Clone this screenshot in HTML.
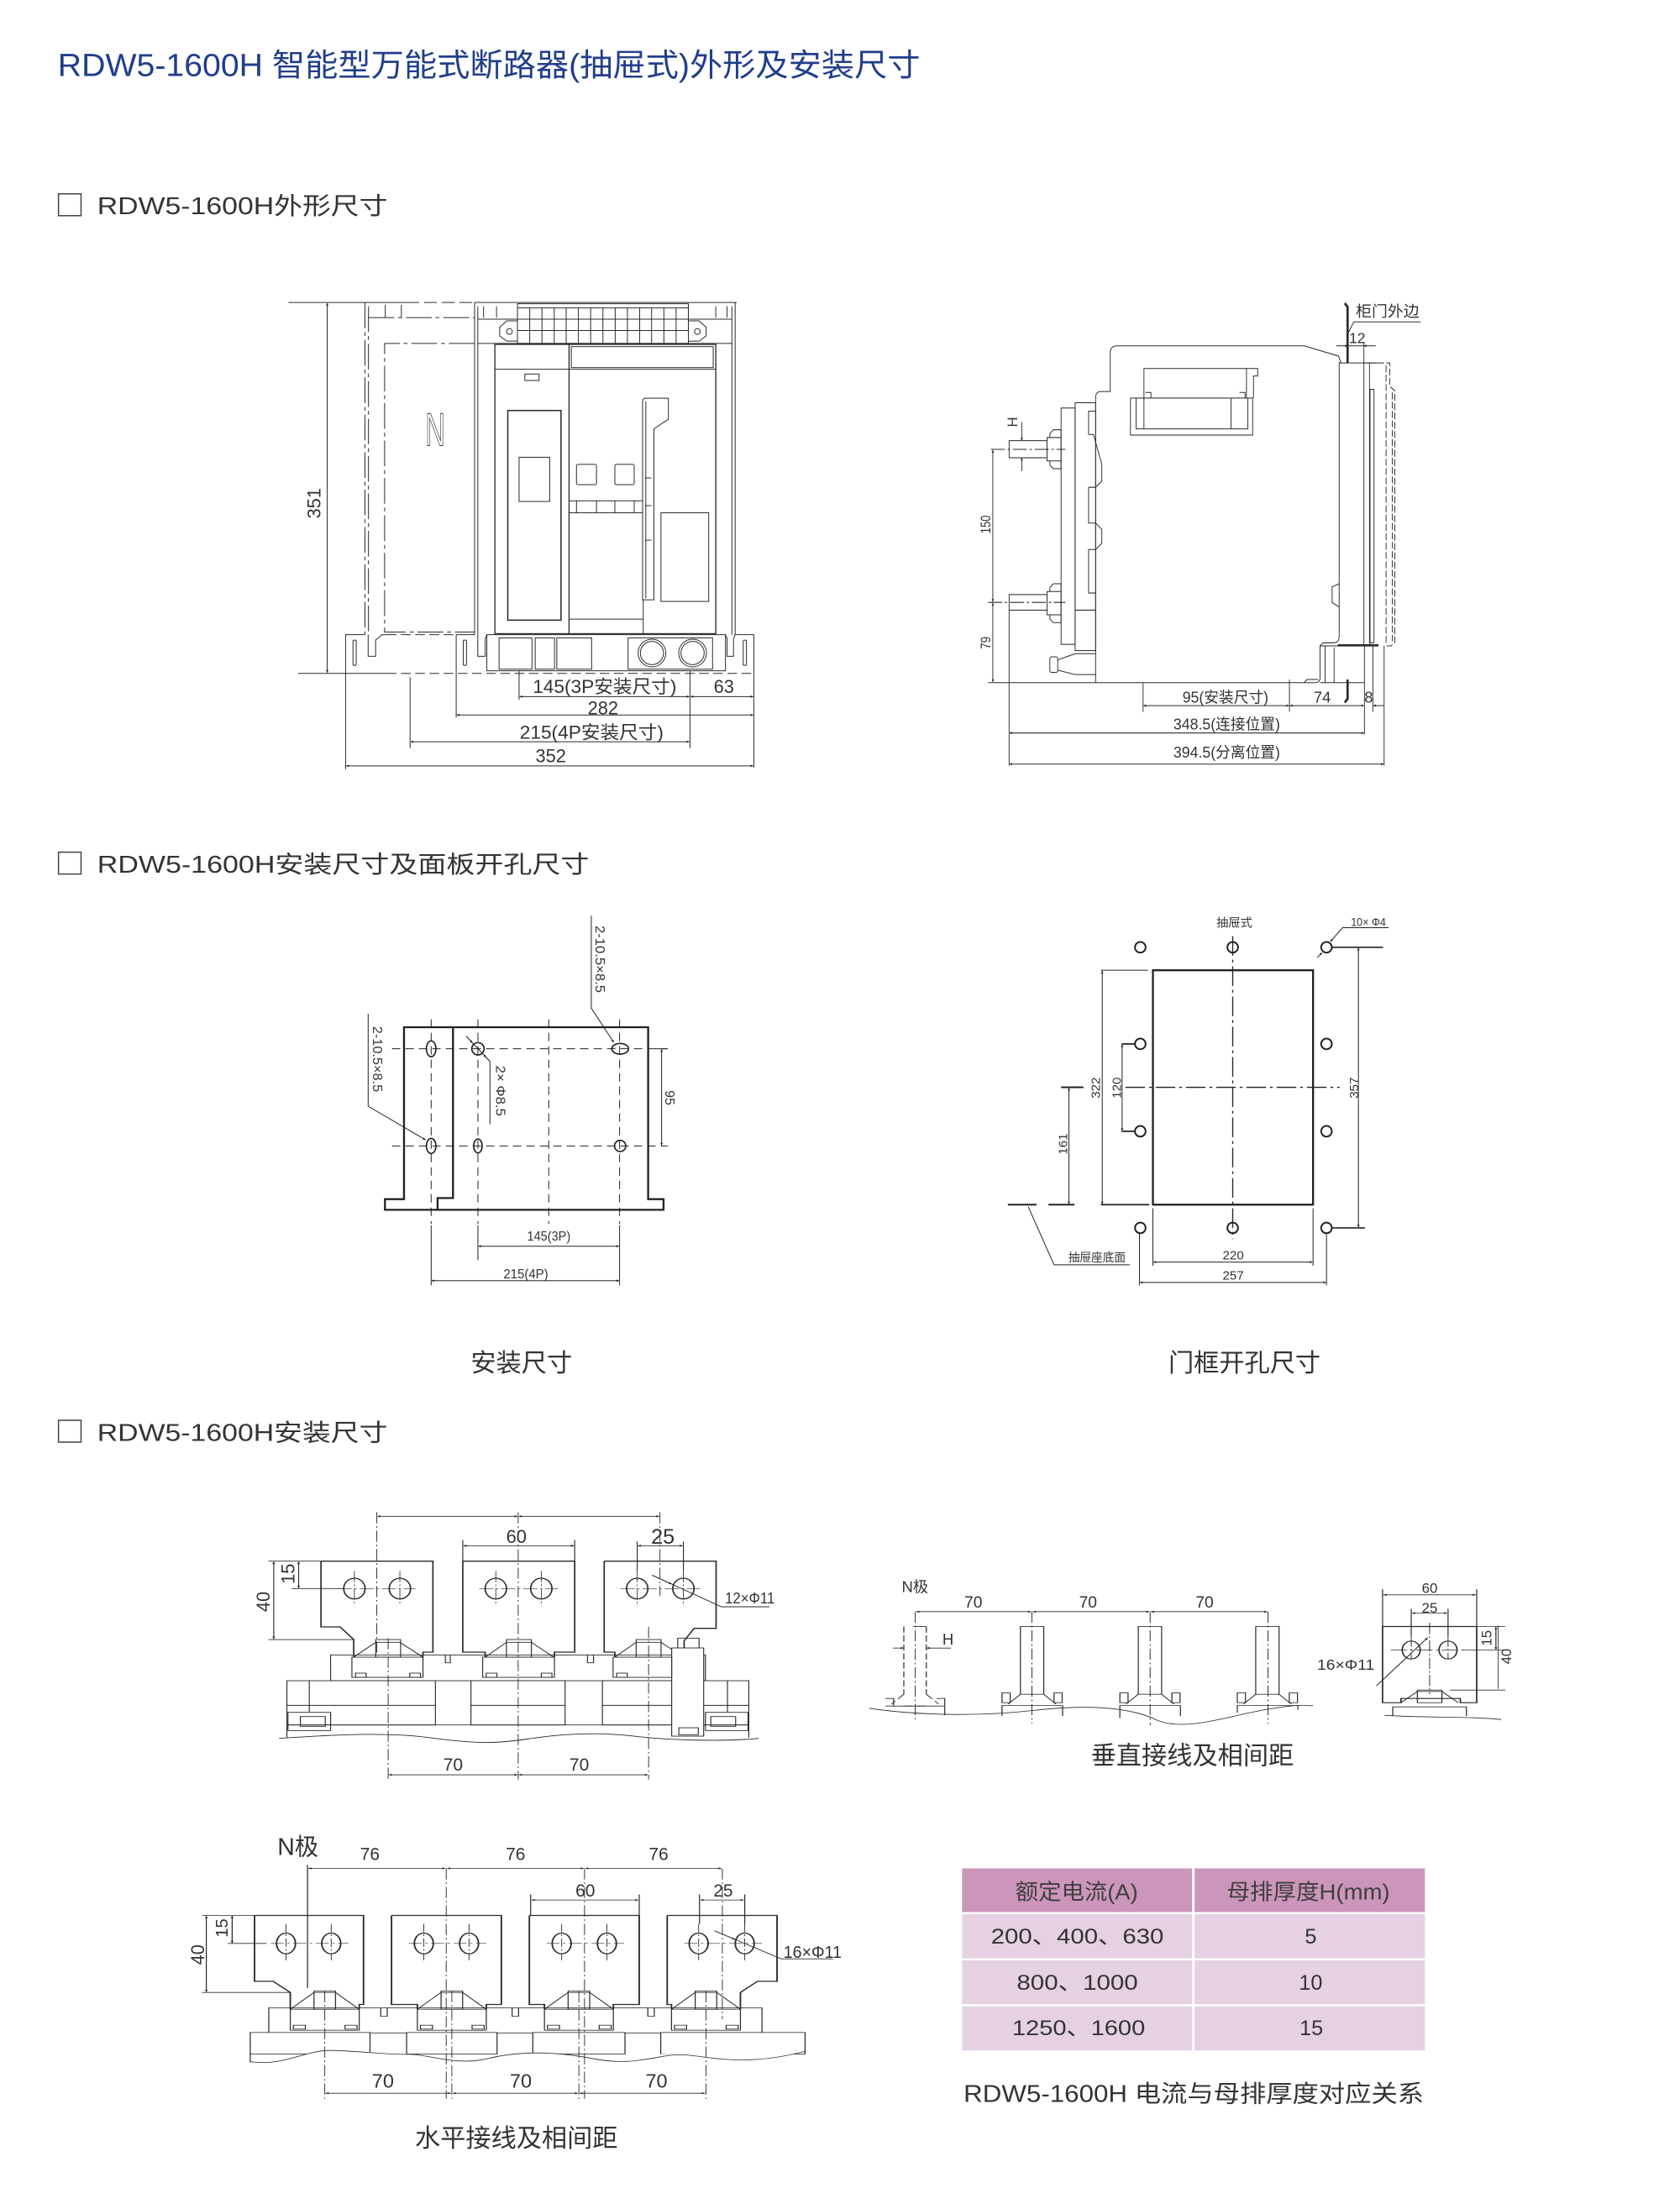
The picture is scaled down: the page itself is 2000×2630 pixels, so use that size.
<!DOCTYPE html>
<html><head><meta charset="utf-8">
<style>
html,body{margin:0;padding:0;background:#fff;}
svg{display:block;}
text{font-family:"Liberation Sans","Noto Sans CJK SC",sans-serif;fill:#333;stroke:none;}
</style></head><body>
<svg width="2000" height="2630" viewBox="0 0 1192 1567" preserveAspectRatio="none" xmlns="http://www.w3.org/2000/svg">
<defs>
<marker id="ar" viewBox="0 0 10 10" refX="10" refY="5" markerWidth="8" markerHeight="3" orient="auto-start-reverse"><path d="M0,0L10,5L0,10z" fill="#222" stroke="none"/></marker>
</defs>
<rect width="1192" height="1567" fill="#fff"/>

<!-- Title -->
<text x="41" y="54" font-size="22.5" fill="#213e8c" style="fill:#213e8c" textLength="612" lengthAdjust="spacingAndGlyphs">RDW5-1600H 智能型万能式断路器(抽屉式)外形及安装尺寸</text>

<!-- Subtitles -->
<rect x="41.5" y="137.5" width="16" height="15.5" fill="none" stroke="#444" stroke-width="0.9"/>
<text x="69" y="152" font-size="17" textLength="206" lengthAdjust="spacingAndGlyphs">RDW5-1600H外形尺寸</text>
<rect x="41.5" y="604.5" width="16" height="15.5" fill="none" stroke="#444" stroke-width="0.9"/>
<text x="69" y="619" font-size="17" textLength="349" lengthAdjust="spacingAndGlyphs">RDW5-1600H安装尺寸及面板开孔尺寸</text>
<rect x="41.5" y="1007.5" width="16" height="15.5" fill="none" stroke="#444" stroke-width="0.9"/>
<text x="69" y="1022" font-size="17" textLength="206" lengthAdjust="spacingAndGlyphs">RDW5-1600H安装尺寸</text>

<!-- ============ FIG 1 front view ============ -->
<g transform="translate(196.7,196.7) scale(0.2288)" fill="none" stroke="#2a2a2a" stroke-width="2.6">
<line x1="35" y1="78" x2="272" y2="78"/>
<line x1="155" y1="80" x2="155" y2="1226" marker-start="url(#ar)" marker-end="url(#ar)"/>
<line x1="65" y1="1228" x2="340" y2="1228"/>
<line x1="340" y1="1228" x2="1480" y2="1228" stroke-dasharray="30,14"/>
<line x1="272" y1="78" x2="400" y2="78"/>
<line x1="400" y1="78" x2="612" y2="78" stroke-dasharray="40,15"/>
<line x1="612" y1="78" x2="1425" y2="78"/>
<g stroke-dasharray="80,12,12,12">
<line x1="272" y1="78" x2="272" y2="1108"/>
<line x1="283" y1="90" x2="283" y2="1108"/>
<line x1="283" y1="125" x2="612" y2="125"/>
<path d="M612,205 H333 V1100 H612"/>
</g>
<line x1="335" y1="85" x2="335" y2="125"/>
<line x1="385" y1="85" x2="385" y2="125"/>
<line x1="612" y1="78" x2="612" y2="1110"/>
<line x1="622" y1="90" x2="622" y2="1108"/>
<line x1="1410" y1="90" x2="1410" y2="1108"/>
<line x1="1420" y1="78" x2="1420" y2="1108"/>
<line x1="640" y1="90" x2="640" y2="125"/>
<line x1="680" y1="90" x2="680" y2="125"/>
<line x1="1360" y1="90" x2="1360" y2="125"/>
<line x1="1395" y1="90" x2="1395" y2="125"/>
<line x1="622" y1="130" x2="745" y2="130"/>
<line x1="1275" y1="130" x2="1410" y2="130"/>
<line x1="622" y1="205" x2="1410" y2="205"/>
<rect x="745" y="82" width="530" height="123"/>
<path d="M783,95V205M821,95V205M859,95V205M896,95V205M934,95V205M972,95V205M1010,95V205M1048,95V205M1086,95V205M1124,95V205M1161,95V205M1199,95V205M1237,95V205M745,95H1275M745,130H1275M745,165H1275"/>
<path d="M745,135 H712 L690,155 V182 L712,198 H745"/>
<circle cx="720" cy="168" r="9"/>
<path d="M1275,135 H1308 L1330,155 V182 L1308,198 H1275"/>
<circle cx="1303" cy="168" r="9"/>
<rect x="675" y="208" width="685" height="897" stroke-width="3.5"/>
<line x1="675" y1="285" x2="1360" y2="285"/>
<line x1="905" y1="208" x2="905" y2="1105" stroke-width="3.5"/>
<rect x="912" y="215" width="440" height="65"/>
<rect x="768" y="300" width="44" height="20"/>
<rect x="715" y="413" width="165" height="650" stroke-width="4"/>
<rect x="750" y="558" width="95" height="137"/>
<rect x="928" y="580" width="62" height="63" rx="5"/>
<rect x="1047" y="580" width="60" height="63" rx="5"/>
<path d="M905,693 H1133 M905,730 H1133 M928,693V730 M990,693V730 M1047,693V730 M1107,693V730"/>
<path d="M1133,1000 V385 Q1133,375 1143,375 H1213 V440 L1168,470 V1000 Z"/>
<line x1="1143" y1="385" x2="1143" y2="995"/>
<path d="M1140,622 H1160 M1140,708 H1160 M1140,815 H1160"/>
<path d="M1135,1000 V1105 M905,1060 H1135"/>
<rect x="1190" y="730" width="148" height="275"/>
<rect x="650" y="1108" width="740" height="112"/>
<rect x="688" y="1118" width="102" height="97"/>
<rect x="800" y="1118" width="60" height="97"/>
<rect x="867" y="1118" width="108" height="97"/>
<rect x="1088" y="1118" width="262" height="97"/>
<circle cx="1162" cy="1165" r="43"/><circle cx="1162" cy="1165" r="36"/>
<circle cx="1288" cy="1165" r="43"/><circle cx="1288" cy="1165" r="36"/>
<path d="M212,1228 V1108 H272 M282,1108 V1175 H305 V1125 L325,1108 H340"/>
<line x1="340" y1="1108" x2="555" y2="1108" stroke-dasharray="30,14"/>
<path d="M555,1228 V1108 H612 M622,1108 V1175 H645 V1120 L650,1108"/>
<path d="M1390,1108 L1395,1120 V1175 H1415 V1120 L1420,1108 H1478 V1228"/>
<rect x="235" y="1125" width="10" height="78" rx="3"/>
<rect x="577" y="1125" width="10" height="78" rx="3"/>
<rect x="1445" y="1125" width="10" height="78" rx="3"/>
<line x1="750" y1="1220" x2="750" y2="1310"/>
<line x1="1280" y1="1220" x2="1280" y2="1460"/>
<line x1="1478" y1="1228" x2="1478" y2="1520"/>
<line x1="555" y1="1228" x2="555" y2="1365"/>
<line x1="412" y1="1240" x2="412" y2="1460"/>
<line x1="212" y1="1228" x2="212" y2="1525"/>
<line x1="752" y1="1300" x2="1278" y2="1300" marker-start="url(#ar)" marker-end="url(#ar)"/>
<line x1="1282" y1="1300" x2="1476" y2="1300" marker-start="url(#ar)" marker-end="url(#ar)"/>
<line x1="557" y1="1357" x2="1476" y2="1357" marker-start="url(#ar)" marker-end="url(#ar)"/>
<line x1="414" y1="1440" x2="1278" y2="1440" marker-start="url(#ar)" marker-end="url(#ar)"/>
<line x1="214" y1="1515" x2="1476" y2="1515" marker-start="url(#ar)" marker-end="url(#ar)"/>
</g>
<text x="308.8" y="316" font-size="33" text-anchor="middle" textLength="14" lengthAdjust="spacingAndGlyphs" style="fill:none;stroke:#333;stroke-width:0.6">N</text>
<text transform="translate(223,357) rotate(-90)" text-anchor="middle" dominant-baseline="central" font-size="13">351</text>
<text x="429" y="491.5" font-size="13" text-anchor="middle" textLength="102" lengthAdjust="spacingAndGlyphs">145(3P安装尺寸)</text>
<text x="513.6" y="491.5" font-size="13" text-anchor="middle">63</text>
<text x="427.8" y="506.8" font-size="13" text-anchor="middle">282</text>
<text x="419.8" y="523.9" font-size="13" text-anchor="middle" textLength="102" lengthAdjust="spacingAndGlyphs">215(4P安装尺寸)</text>
<text x="390.8" y="540.6" font-size="13" text-anchor="middle">352</text>

<!-- ============ FIG 2 side view ============ -->
<g transform="translate(685.1,202.3) scale(0.1993,0.2206)" fill="none" stroke="#2a2a2a" stroke-width="2.8">
<path d="M1350,58 L1360,70 V250" stroke-width="8"/>
<path d="M1360,1268 V1330 L1350,1342" stroke-width="8"/>
<path d="M1363,152 L1382,118 H1620"/>
<line x1="1418" y1="185" x2="1418" y2="250"/>
<line x1="1320" y1="195" x2="1360" y2="195" marker-end="url(#ar)"/>
<line x1="1460" y1="195" x2="1418" y2="195" marker-end="url(#ar)"/>
<line x1="1360" y1="195" x2="1418" y2="195"/>
<path d="M463,378 V362 Q463,342 482,342 H515 V218 Q515,195 540,195 H1205 L1328,228 L1336,250 H1330 V1130 Q1330,1150 1310,1150 H1272 L1262,1160 V1262 Q1262,1278 1245,1278 H463 Z"/>
<path d="M1330,960 L1305,970 V1020 L1330,1035"/>
<rect x="390" y="378" width="73" height="797"/>
<rect x="340" y="395" width="50" height="760"/>
<path d="M463,405 H438 V480 H455 L485,575 V630 L463,650 H438 V765 H463 L485,785 V830 L463,850 H438 V990 H463"/>
<line x1="390" y1="1045" x2="463" y2="1045"/>
<rect x="587" y="363" width="435" height="119"/>
<path d="M607,363 V462 H1005 V363"/>
<path d="M635,363 V268 H1040 V292 H1025 V363"/>
<line x1="1000" y1="268" x2="1000" y2="363"/>
<line x1="945" y1="363" x2="945" y2="462"/>
<line x1="635" y1="363" x2="635" y2="462"/>
<path d="M640,345 H660 V363 M975,345 H995 V363"/>
<line x1="1330" y1="250" x2="1470" y2="250"/>
<rect x="1418" y="250" width="20" height="910"/>
<rect x="1440" y="335" width="14" height="815"/>
<path d="M1438,250 H1510 V325 L1528,340 V1148 L1515,1160 H1490" stroke-dasharray="22,8"/>
<line x1="1497" y1="258" x2="1497" y2="1155" stroke-dasharray="22,8"/>
<line x1="1519" y1="345" x2="1519" y2="1145" stroke-dasharray="22,8"/>
<line x1="1325" y1="1158" x2="1470" y2="1158" stroke-width="7"/>
<path d="M1262,1160 H1420 V1278 H1262"/>
<line x1="1280" y1="1160" x2="1280" y2="1278"/>
<line x1="1312" y1="1165" x2="1312" y2="1278"/>
<path d="M1205,1278 L1215,1268 H1255"/>
<rect x="155" y="500" width="135" height="55"/>
<path d="M290,490 H340 V565 H290 Z"/>
<path d="M312,465 H340 V490 M312,465 L300,478 V490 M312,590 H340 V565 M312,590 L300,578 V565"/>
<line x1="90" y1="528" x2="355" y2="528" stroke-dasharray="50,10,8,10"/>
<rect x="155" y="995" width="135" height="50"/>
<path d="M290,985 H340 V1060 H290 Z"/>
<path d="M312,960 H340 V985 M312,960 L300,972 V985 M312,1085 H340 V1060 M312,1085 L300,1073 V1060"/>
<line x1="80" y1="1020" x2="355" y2="1020" stroke-dasharray="50,10,8,10"/>
<rect x="300" y="1195" width="28" height="50" rx="6"/>
<path d="M328,1205 L390,1185 H463 M328,1238 L390,1252 H463"/>
<line x1="200" y1="440" x2="200" y2="500" marker-end="url(#ar)"/>
<line x1="200" y1="598" x2="200" y2="555" marker-end="url(#ar)"/>
<line x1="97" y1="530" x2="97" y2="1018" marker-start="url(#ar)" marker-end="url(#ar)"/>
<line x1="97" y1="1022" x2="97" y2="1276" marker-start="url(#ar)" marker-end="url(#ar)"/>
<line x1="80" y1="1278" x2="463" y2="1278"/>
<line x1="155" y1="1045" x2="155" y2="1545"/>
<line x1="632" y1="1278" x2="632" y2="1372"/>
<line x1="1153" y1="1268" x2="1153" y2="1372"/>
<line x1="634" y1="1352" x2="1151" y2="1352" marker-start="url(#ar)" marker-end="url(#ar)"/>
<line x1="1155" y1="1352" x2="1418" y2="1352" marker-start="url(#ar)" marker-end="url(#ar)"/>
<line x1="1420" y1="1278" x2="1420" y2="1445"/>
<line x1="1450" y1="1160" x2="1450" y2="1372"/>
<line x1="1488" y1="1352" x2="1452" y2="1352" marker-end="url(#ar)"/>
<line x1="157" y1="1440" x2="1418" y2="1440" marker-start="url(#ar)" marker-end="url(#ar)"/>
<line x1="1490" y1="1160" x2="1490" y2="1545"/>
<line x1="157" y1="1540" x2="1488" y2="1540" marker-start="url(#ar)" marker-end="url(#ar)"/>
</g>
<text x="962" y="224.5" font-size="11" textLength="45" lengthAdjust="spacingAndGlyphs">柜门外边</text>
<text x="963" y="243.5" font-size="10.5" text-anchor="middle">12</text>
<text transform="translate(718.6,299.4) rotate(-90)" text-anchor="middle" dominant-baseline="central" font-size="10">H</text>
<text transform="translate(699.5,372) rotate(-90)" text-anchor="middle" dominant-baseline="central" font-size="10" textLength="13" lengthAdjust="spacingAndGlyphs">150</text>
<text transform="translate(699.5,456) rotate(-90)" text-anchor="middle" dominant-baseline="central" font-size="10" textLength="9" lengthAdjust="spacingAndGlyphs">79</text>
<text x="869.5" y="498.5" font-size="11" text-anchor="middle" textLength="61" lengthAdjust="spacingAndGlyphs">95(安装尺寸)</text>
<text x="938.2" y="498.5" font-size="11" text-anchor="middle">74</text>
<text x="971.1" y="498.5" font-size="11" text-anchor="middle">8</text>
<text x="870.4" y="517.5" font-size="11" text-anchor="middle" textLength="75.7" lengthAdjust="spacingAndGlyphs">348.5(连接位置)</text>
<text x="870.4" y="537.5" font-size="11" text-anchor="middle" textLength="75.7" lengthAdjust="spacingAndGlyphs">394.5(分离位置)</text>

<!-- ============ FIG 3 install dims ============ -->
<g transform="translate(250.3,637.7) scale(0.19865)" fill="none" stroke="#222" stroke-width="3">
<path d="M115,1110 V1072 H183 V458 H1055 V1072 H1110 V1110 Z" stroke-width="7"/>
<path d="M358,458 V1068 H303 V1110" stroke-width="7"/>
<g stroke-dasharray="30,18" stroke-width="3">
<line x1="280" y1="430" x2="280" y2="1160"/>
<line x1="447" y1="430" x2="447" y2="1160"/>
<line x1="700" y1="430" x2="700" y2="1160"/>
<line x1="953" y1="430" x2="953" y2="1160"/>
<line x1="140" y1="535" x2="1125" y2="535"/>
<line x1="140" y1="882" x2="1125" y2="882"/>
</g>
<line x1="280" y1="1165" x2="280" y2="1380"/>
<line x1="447" y1="1165" x2="447" y2="1290"/>
<line x1="953" y1="1165" x2="953" y2="1380"/>
<g stroke-width="5">
<ellipse cx="280" cy="535" rx="17" ry="28"/>
<circle cx="447" cy="535" r="22"/>
<ellipse cx="955" cy="535" rx="30" ry="19"/>
<ellipse cx="280" cy="882" rx="17" ry="27"/>
<ellipse cx="447" cy="882" rx="15" ry="25"/>
<circle cx="955" cy="882" r="20"/>
</g>
<path d="M852,60 V390 L932,512" marker-end="url(#ar)"/>
<path d="M55,410 V740 L260,860" marker-end="url(#ar)"/>
<path d="M405,490 L490,580 V805"/>
<line x1="405" y1="490" x2="428" y2="514" marker-end="url(#ar)"/>
<line x1="490" y1="580" x2="467" y2="556" marker-end="url(#ar)"/>
<line x1="1080" y1="535" x2="1125" y2="535"/>
<line x1="1103" y1="537" x2="1103" y2="880" marker-start="url(#ar)" marker-end="url(#ar)"/>
<line x1="449" y1="1240" x2="951" y2="1240" marker-start="url(#ar)" marker-end="url(#ar)"/>
<line x1="282" y1="1363" x2="951" y2="1363" marker-start="url(#ar)" marker-end="url(#ar)"/>
</g>
<text transform="translate(425.1,680.4) rotate(90)" text-anchor="middle" dominant-baseline="central" font-size="9.5" textLength="47.7" lengthAdjust="spacingAndGlyphs">2-10.5×8.5</text>
<text transform="translate(267.2,751.3) rotate(90)" text-anchor="middle" dominant-baseline="central" font-size="9.5" textLength="46.7" lengthAdjust="spacingAndGlyphs">2-10.5×8.5</text>
<text transform="translate(354.6,773.8) rotate(90)" text-anchor="middle" dominant-baseline="central" font-size="9.5" textLength="35.8" lengthAdjust="spacingAndGlyphs">2× Φ8.5</text>
<text transform="translate(474.8,778.7) rotate(90)" text-anchor="middle" dominant-baseline="central" font-size="9.5">95</text>
<text x="389.4" y="880" font-size="9.5" text-anchor="middle" textLength="30.8" lengthAdjust="spacingAndGlyphs">145(3P)</text>
<text x="373.1" y="906.9" font-size="9.5" text-anchor="middle" textLength="31.8" lengthAdjust="spacingAndGlyphs">215(4P)</text>

<!-- ============ FIG 4 door cutout ============ -->
<g transform="translate(703.2,640.6) scale(0.19865)" fill="none" stroke="#222" stroke-width="3">
<rect x="578" y="240" width="572" height="837" stroke-width="7"/>
<line x1="863" y1="118" x2="863" y2="1200" stroke-dasharray="70,14,10,14" stroke-width="4"/>
<line x1="480" y1="658" x2="1245" y2="658" stroke-dasharray="70,14,10,14" stroke-width="4"/>
<g stroke-width="6">
<circle cx="533" cy="158" r="19"/><circle cx="863" cy="158" r="19"/><circle cx="1198" cy="158" r="19"/>
<circle cx="533" cy="503" r="19"/><circle cx="1198" cy="503" r="19"/>
<circle cx="533" cy="815" r="19"/><circle cx="1198" cy="815" r="19"/>
<circle cx="533" cy="1160" r="19"/><circle cx="863" cy="1160" r="19"/><circle cx="1198" cy="1160" r="19"/>
</g>
<line x1="392" y1="240" x2="560" y2="240"/>
<line x1="392" y1="1077" x2="565" y2="1077" stroke-width="5"/>
<line x1="397" y1="242" x2="397" y2="1075" marker-start="url(#ar)" marker-end="url(#ar)"/>
<path d="M466,503 H513 M466,815 H513" stroke-width="5"/>
<line x1="468" y1="505" x2="468" y2="813" marker-start="url(#ar)" marker-end="url(#ar)"/>
<path d="M250,658 H330 M205,1077 H298 M60,1077 H162" stroke-width="6"/>
<line x1="278" y1="660" x2="278" y2="1075" marker-start="url(#ar)" marker-end="url(#ar)"/>
<path d="M1215,158 H1400 M1215,1160 H1335" stroke-width="5"/>
<line x1="1312" y1="160" x2="1312" y2="1158" marker-start="url(#ar)" marker-end="url(#ar)"/>
<path d="M1420,88 H1255 L1212,138" marker-end="url(#ar)"/>
<line x1="1165" y1="195" x2="1182" y2="177" marker-end="url(#ar)"/>
<line x1="578" y1="1090" x2="578" y2="1295"/>
<line x1="1150" y1="1090" x2="1150" y2="1295"/>
<line x1="580" y1="1282" x2="1148" y2="1282" marker-start="url(#ar)" marker-end="url(#ar)"/>
<line x1="530" y1="1180" x2="530" y2="1365"/>
<line x1="1198" y1="1180" x2="1198" y2="1365"/>
<line x1="532" y1="1355" x2="1196" y2="1355" marker-start="url(#ar)" marker-end="url(#ar)"/>
<path d="M133,1085 L225,1292 H495"/>
</g>
<text x="875.8" y="657.5" font-size="8.5" text-anchor="middle">抽屉式</text>
<text x="958.5" y="657" font-size="8.5" textLength="24.8" lengthAdjust="spacingAndGlyphs">10× Φ4</text>
<text transform="translate(961,771.7) rotate(-90)" text-anchor="middle" dominant-baseline="central" font-size="9">357</text>
<text transform="translate(777.8,771.7) rotate(-90)" text-anchor="middle" dominant-baseline="central" font-size="9">322</text>
<text transform="translate(792.6,771.7) rotate(-90)" text-anchor="middle" dominant-baseline="central" font-size="9">120</text>
<text transform="translate(754.5,811.5) rotate(-90)" text-anchor="middle" dominant-baseline="central" font-size="9">161</text>
<text x="778.3" y="894.9" font-size="8.5" text-anchor="middle" textLength="40.7" lengthAdjust="spacingAndGlyphs">抽屉座底面</text>
<text x="875" y="893.3" font-size="9" text-anchor="middle">220</text>
<text x="875" y="907.8" font-size="9" text-anchor="middle">257</text>

<text x="370" y="973" font-size="18" text-anchor="middle">安装尺寸</text>
<text x="883" y="973" font-size="18" text-anchor="middle">门框开孔尺寸</text>

<!-- ============ FIG 5 3P busbars ============ -->
<g transform="translate(172.8,1066.7) scale(0.2521,0.19865)" fill="none" stroke="#2a2a2a" stroke-width="2.7">
<rect x="245" y="540" width="1055" height="92" fill="#fff"/>
<path d="M568,540 V568 H582 V540 M968,540 V568 H985 V540"/>
<rect x="122" y="632" width="418" height="158" fill="#fff"/>
<rect x="640" y="632" width="265" height="158" fill="#fff"/>
<rect x="1010" y="632" width="412" height="158" fill="#fff"/>
<path d="M122,720 H540 M640,720 H905 M1010,720 H1422 M185,632 V745 M1362,632 V745"/>
<rect x="125" y="745" width="120" height="65"/>
<rect x="160" y="760" width="70" height="35"/>
<rect x="1300" y="745" width="120" height="65"/>
<rect x="1315" y="760" width="70" height="35"/>
<path d="M122,790 H1422 M122,790 V835 M1422,790 V835"/>
<path d="M100,838 C250,825 400,815 520,835 S700,860 800,840 S1000,815 1100,830 S1350,850 1450,838"/>
<rect x="1205" y="515" width="90" height="315" fill="#fff"/>
<rect x="1222" y="480" width="60" height="35" fill="#fff"/>
<rect x="1225" y="800" width="55" height="25"/>
<!-- terminals -->
<g>
<rect x="305" y="548" width="200" height="72" fill="#fff"/><rect x="315" y="605" width="30" height="15"/><rect x="468" y="605" width="30" height="15"/>
<path d="M310,548 L372,495 H440 L505,548"/><rect x="372" y="485" width="70" height="63"/>
<rect x="673" y="548" width="202" height="72" fill="#fff"/><rect x="683" y="605" width="30" height="15"/><rect x="838" y="605" width="30" height="15"/>
<path d="M680,548 L740,495 H810 L873,548"/><rect x="740" y="485" width="70" height="63"/>
<rect x="1040" y="548" width="165" height="72" fill="#fff"/><rect x="1050" y="605" width="30" height="15"/>
<path d="M1045,548 L1105,495 H1175 L1205,520"/><rect x="1105" y="485" width="70" height="63"/>
</g>
<!-- plates -->
<g stroke-width="4">
<path d="M218,205 H533 V530 H505 V548 M218,205 V440 H272 L310,485 V548"/>
<path d="M617,205 H932 V530 H875 V548 M617,205 V530 H680 V548"/>
<path d="M1015,205 H1330 V445 H1268 L1240,490 V515 M1015,205 V530 H1045 V548"/>
<ellipse cx="312" cy="303" rx="30" ry="37"/><ellipse cx="440" cy="303" rx="30" ry="37"/>
<ellipse cx="710" cy="303" rx="30" ry="37"/><ellipse cx="838" cy="303" rx="30" ry="37"/>
<ellipse cx="1108" cy="303" rx="30" ry="37"/><ellipse cx="1238" cy="303" rx="30" ry="37"/>
</g>
<path d="M265,303 H485 M663,303 H885 M1061,303 H1285 M312,240 V365 M440,240 V365 M710,240 V365 M838,240 V365 M1108,240 V365 M1238,240 V365" stroke-width="2" stroke-dasharray="40,8,6,8"/>
<g stroke-dasharray="40,10,6,10" stroke-width="2.2">
<line x1="375" y1="30" x2="375" y2="540"/>
<line x1="773" y1="30" x2="773" y2="985"/>
<line x1="1172" y1="30" x2="1172" y2="330"/>
<line x1="407" y1="480" x2="407" y2="985"/>
<line x1="1140" y1="440" x2="1140" y2="985"/>
</g>
<line x1="377" y1="45" x2="771" y2="45" marker-start="url(#ar)" marker-end="url(#ar)"/>
<line x1="775" y1="45" x2="1170" y2="45" marker-start="url(#ar)" marker-end="url(#ar)"/>
<line x1="617" y1="130" x2="617" y2="205"/><line x1="932" y1="130" x2="932" y2="205"/>
<line x1="619" y1="150" x2="930" y2="150" marker-start="url(#ar)" marker-end="url(#ar)"/>
<line x1="1108" y1="135" x2="1108" y2="240"/><line x1="1238" y1="135" x2="1238" y2="240"/>
<line x1="1110" y1="150" x2="1236" y2="150" marker-start="url(#ar)" marker-end="url(#ar)"/>
<path d="M1150,255 L1345,368 H1480"/>
<line x1="1150" y1="255" x2="1205" y2="287" marker-end="url(#ar)"/>
<line x1="70" y1="205" x2="218" y2="205"/>
<line x1="70" y1="485" x2="310" y2="485"/>
<line x1="135" y1="303" x2="280" y2="303"/>
<line x1="85" y1="207" x2="85" y2="483" marker-start="url(#ar)" marker-end="url(#ar)"/>
<line x1="155" y1="207" x2="155" y2="301" marker-start="url(#ar)" marker-end="url(#ar)"/>
<line x1="409" y1="968" x2="771" y2="968" marker-start="url(#ar)" marker-end="url(#ar)"/>
<line x1="775" y1="968" x2="1138" y2="968" marker-start="url(#ar)" marker-end="url(#ar)"/>
</g>
<text x="366.4" y="1094.5" font-size="13" text-anchor="middle">60</text>
<text x="470.3" y="1095" font-size="15" text-anchor="middle">25</text>
<text x="514.4" y="1137.5" font-size="11" textLength="35.3" lengthAdjust="spacingAndGlyphs">12×Φ11</text>
<text transform="translate(186.7,1136.2) rotate(-90)" text-anchor="middle" dominant-baseline="central" font-size="13">40</text>
<text transform="translate(204.3,1116.4) rotate(-90)" text-anchor="middle" dominant-baseline="central" font-size="13">15</text>
<text x="321.5" y="1256" font-size="12.5" text-anchor="middle">70</text>
<text x="411" y="1256" font-size="12.5" text-anchor="middle">70</text>

<!-- ============ FIG 6 vertical wiring ============ -->
<g transform="translate(610.8,1108.5) scale(0.29033,0.19865)" fill="none" stroke="#2a2a2a" stroke-width="2.5">
<path d="M20,520 C150,548 300,548 420,528 S650,512 720,560 S900,545 1000,522 S1080,515 1105,510"/>
<g>
<path d="M60,485 H80 V510 M185,485 H205 V510 M60,512 H205 V545"/>
<path d="M105,228 V470 M160,228 V470 M105,470 L75,505 M160,470 L190,505 M105,512 H160" stroke-dasharray="22,10"/>
<path d="M128,228 H160"/>
</g>
<g>
<rect x="390" y="228" width="57" height="242"/>
<path d="M390,470 L360,505 M447,470 L477,505"/>
<rect x="345" y="465" width="20" height="35"/><rect x="472" y="465" width="20" height="35"/>
<path d="M345,548 V510 H493 V548"/>
<rect x="678" y="228" width="57" height="242"/>
<path d="M678,470 L648,505 M735,470 L765,505"/>
<rect x="633" y="465" width="20" height="35"/><rect x="760" y="465" width="20" height="35"/>
<path d="M633,555 V510 H781 V548"/>
<rect x="965" y="228" width="57" height="242"/>
<path d="M965,470 L935,505 M1022,470 L1052,505"/>
<rect x="920" y="465" width="20" height="35"/><rect x="1047" y="465" width="20" height="35"/>
<path d="M920,535 V510 H1068 V525"/>
</g>
<g stroke-dasharray="40,10,6,10" stroke-width="2">
<line x1="133" y1="175" x2="133" y2="560"/>
<line x1="418" y1="175" x2="418" y2="575"/>
<line x1="707" y1="175" x2="707" y2="580"/>
<line x1="995" y1="175" x2="995" y2="575"/>
</g>
<line x1="135" y1="175" x2="416" y2="175" marker-start="url(#ar)" marker-end="url(#ar)"/>
<line x1="420" y1="175" x2="705" y2="175" marker-start="url(#ar)" marker-end="url(#ar)"/>
<line x1="709" y1="175" x2="993" y2="175" marker-start="url(#ar)" marker-end="url(#ar)"/>
<line x1="78" y1="305" x2="105" y2="305" marker-end="url(#ar)"/>
<line x1="220" y1="305" x2="160" y2="305" marker-end="url(#ar)"/>
<!-- right detail -->
<path d="M1275,228 H1505 V500 H1465 V485 H1320 V500 H1275 Z" stroke-width="3.5"/>
<ellipse cx="1345" cy="312" rx="22" ry="32" stroke-width="3.5"/>
<ellipse cx="1435" cy="312" rx="22" ry="32" stroke-width="3.5"/>
<path d="M1295,312 H1475 M1345,260 V345 M1435,260 V345 M1390,215 V470" stroke-width="2" stroke-dasharray="40,8,6,8"/>
<path d="M1320,500 L1360,460 H1420 L1460,500"/>
<rect x="1360" y="455" width="60" height="45"/>
<path d="M1300,548 V515 H1480 V548"/>
<path d="M1280,545 C1380,555 1480,548 1565,560"/>
<line x1="1275" y1="95" x2="1275" y2="228"/><line x1="1505" y1="95" x2="1505" y2="228"/>
<line x1="1277" y1="115" x2="1503" y2="115" marker-start="url(#ar)" marker-end="url(#ar)"/>
<line x1="1345" y1="165" x2="1345" y2="260"/><line x1="1435" y1="165" x2="1435" y2="260"/>
<line x1="1347" y1="180" x2="1433" y2="180" marker-start="url(#ar)" marker-end="url(#ar)"/>
<line x1="1505" y1="228" x2="1575" y2="228"/><line x1="1470" y1="312" x2="1575" y2="312"/>
<line x1="1552" y1="230" x2="1552" y2="310" marker-start="url(#ar)" marker-end="url(#ar)"/>
<line x1="1440" y1="455" x2="1575" y2="455"/>
<line x1="1260" y1="440" x2="1385" y2="268" marker-end="url(#ar)"/>
</g>
<line x1="1063" y1="1153" x2="1063" y2="1198" stroke="#2a2a2a" stroke-width="0.5"/>
<text x="639.8" y="1129.5" font-size="11">N极</text>
<text x="690.6" y="1140.5" font-size="11.5" text-anchor="middle">70</text>
<text x="772" y="1140.5" font-size="11.5" text-anchor="middle">70</text>
<text x="854.7" y="1140.5" font-size="11.5" text-anchor="middle">70</text>
<text x="672.6" y="1166.5" font-size="11" text-anchor="middle">H</text>
<text x="1014.4" y="1130" font-size="10" text-anchor="middle">60</text>
<text x="1014.4" y="1144" font-size="10" text-anchor="middle">25</text>
<text transform="translate(1055,1162) rotate(-90)" text-anchor="middle" dominant-baseline="central" font-size="10">15</text>
<text transform="translate(1069,1175) rotate(-90)" text-anchor="middle" dominant-baseline="central" font-size="10">40</text>
<text x="934.5" y="1184.5" font-size="10.5" textLength="40.7" lengthAdjust="spacingAndGlyphs">16×Φ11</text>
<text x="846" y="1251.5" font-size="18" text-anchor="middle">垂直接线及相间距</text>

<!-- ============ FIG 7 horizontal wiring 4P ============ -->
<g transform="translate(131.1,1293.2) scale(0.30562,0.19865)" fill="none" stroke="#2a2a2a" stroke-width="2.4">
<rect x="195" y="660" width="1145" height="90" fill="#fff"/>
<path d="M455,660 V690 H470 V660 M760,660 V690 H775 V660 M1075,660 V690 H1090 V660"/>
<rect x="152" y="748" width="278" height="77" fill="#fff"/>
<rect x="515" y="748" width="210" height="77" fill="#fff"/>
<rect x="808" y="748" width="214" height="77" fill="#fff"/>
<rect x="1105" y="748" width="335" height="77" fill="#fff"/>
<path d="M152,825 V855 M1440,815 V825"/>
<path d="M152,852 C230,870 280,810 340,812 S480,828 520,826 S630,868 700,842 S850,812 950,842 S1100,822 1160,828 S1300,872 1440,815" fill="#fff"/>
<!-- terminals -->
<g>
<rect x="245" y="665" width="160" height="75" fill="#fff"/><rect x="252" y="722" width="28" height="14"/><rect x="372" y="722" width="28" height="14"/>
<path d="M245,665 L300,605 H350 L405,665"/><rect x="300" y="600" width="50" height="65"/>
<rect x="540" y="665" width="160" height="75" fill="#fff"/><rect x="547" y="722" width="28" height="14"/><rect x="667" y="722" width="28" height="14"/>
<path d="M540,665 L595,605 H645 L700,665"/><rect x="595" y="600" width="50" height="65"/>
<rect x="835" y="665" width="160" height="75" fill="#fff"/><rect x="842" y="722" width="28" height="14"/><rect x="962" y="722" width="28" height="14"/>
<path d="M835,665 L890,605 H940 L995,665"/><rect x="890" y="600" width="50" height="65"/>
<rect x="1130" y="665" width="160" height="75" fill="#fff"/><rect x="1137" y="722" width="28" height="14"/><rect x="1257" y="722" width="28" height="14"/>
<path d="M1130,665 L1185,605 H1235 L1290,665"/><rect x="1185" y="600" width="50" height="65"/>
</g>
<g stroke-width="3.6">
<path d="M162,330 H415 V648 H405 V665 M162,330 V565 H205 L245,605 V665"/>
<path d="M480,330 H735 V648 H700 V665 M480,330 V648 H540 V665"/>
<path d="M800,330 H1055 V648 H995 V665 M800,330 V648 H835 V665"/>
<path d="M1120,330 H1375 V565 H1330 L1290,605 V665 M1120,330 V648 H1130 V665"/>
<ellipse cx="235" cy="430" rx="22" ry="37"/><ellipse cx="340" cy="430" rx="22" ry="37"/>
<ellipse cx="555" cy="430" rx="22" ry="37"/><ellipse cx="660" cy="430" rx="22" ry="37"/>
<ellipse cx="875" cy="430" rx="22" ry="37"/><ellipse cx="980" cy="430" rx="22" ry="37"/>
<ellipse cx="1193" cy="430" rx="22" ry="37"/><ellipse cx="1300" cy="430" rx="22" ry="37"/>
</g>
<path d="M200,430 H380 M520,430 H700 M840,430 H1020 M1160,430 H1340 M235,360 V490 M340,360 V490 M555,360 V490 M660,360 V490 M875,360 V490 M980,360 V490 M1193,360 V490 M1300,360 V490" stroke-width="1.8" stroke-dasharray="30,8,6,8"/>
<g stroke-dasharray="40,10,6,10" stroke-width="1.8">
<line x1="607" y1="162" x2="607" y2="985"/>
<line x1="928" y1="162" x2="928" y2="985"/>
<line x1="1248" y1="162" x2="1248" y2="700"/>
<line x1="325" y1="600" x2="325" y2="985"/>
<line x1="620" y1="600" x2="620" y2="985"/>
<line x1="915" y1="600" x2="915" y2="985"/>
<line x1="1210" y1="600" x2="1210" y2="985"/>
</g>
<line x1="285" y1="150" x2="285" y2="590"/>
<line x1="287" y1="162" x2="605" y2="162" marker-start="url(#ar)" marker-end="url(#ar)"/>
<line x1="609" y1="162" x2="926" y2="162" marker-start="url(#ar)" marker-end="url(#ar)"/>
<line x1="930" y1="162" x2="1246" y2="162" marker-start="url(#ar)" marker-end="url(#ar)"/>
<line x1="803" y1="255" x2="803" y2="330"/><line x1="1055" y1="255" x2="1055" y2="330"/>
<line x1="805" y1="275" x2="1053" y2="275" marker-start="url(#ar)" marker-end="url(#ar)"/>
<line x1="1195" y1="255" x2="1195" y2="360"/><line x1="1300" y1="255" x2="1300" y2="360"/>
<line x1="1197" y1="275" x2="1298" y2="275" marker-start="url(#ar)" marker-end="url(#ar)"/>
<line x1="40" y1="330" x2="162" y2="330"/>
<line x1="40" y1="605" x2="245" y2="605"/>
<line x1="100" y1="430" x2="190" y2="430"/>
<line x1="50" y1="332" x2="50" y2="603" marker-start="url(#ar)" marker-end="url(#ar)"/>
<line x1="110" y1="332" x2="110" y2="428" marker-start="url(#ar)" marker-end="url(#ar)"/>
<path d="M1230,385 L1385,485 H1505"/>
<line x1="1230" y1="385" x2="1278" y2="416" marker-end="url(#ar)"/>
<line x1="327" y1="965" x2="618" y2="965" marker-start="url(#ar)" marker-end="url(#ar)"/>
<line x1="622" y1="965" x2="913" y2="965" marker-start="url(#ar)" marker-end="url(#ar)"/>
<line x1="917" y1="965" x2="1208" y2="965" marker-start="url(#ar)" marker-end="url(#ar)"/>
</g>
<text x="196.8" y="1316" font-size="17">N极</text>
<text x="262.5" y="1319.5" font-size="12.5" text-anchor="middle">76</text>
<text x="365.8" y="1319.5" font-size="12.5" text-anchor="middle">76</text>
<text x="467.3" y="1319.5" font-size="12.5" text-anchor="middle">76</text>
<text x="415.3" y="1345.5" font-size="12.5" text-anchor="middle">60</text>
<text x="513.1" y="1345.5" font-size="12.5" text-anchor="middle">25</text>
<text x="555.9" y="1389" font-size="12" textLength="41.3" lengthAdjust="spacingAndGlyphs">16×Φ11</text>
<text transform="translate(140.3,1386.6) rotate(-90)" text-anchor="middle" dominant-baseline="central" font-size="13">40</text>
<text transform="translate(158,1367.7) rotate(-90)" text-anchor="middle" dominant-baseline="central" font-size="12">15</text>
<text x="271.7" y="1481" font-size="14" text-anchor="middle">70</text>
<text x="369.5" y="1481" font-size="14" text-anchor="middle">70</text>
<text x="465.8" y="1481" font-size="14" text-anchor="middle">70</text>
<text x="366.4" y="1523" font-size="18" text-anchor="middle">水平接线及相间距</text>

<!-- ============ TABLE ============ -->
<rect x="682.6" y="1325.4" width="163.2" height="31" fill="#cc95ba"/>
<rect x="847.6" y="1325.4" width="163.4" height="31" fill="#cc95ba"/>
<rect x="682.6" y="1357.8" width="163.2" height="31.4" fill="#e5d1e1"/>
<rect x="847.6" y="1357.8" width="163.4" height="31.4" fill="#e5d1e1"/>
<rect x="682.6" y="1390.6" width="163.2" height="31.1" fill="#e5d1e1"/>
<rect x="847.6" y="1390.6" width="163.4" height="31.1" fill="#e5d1e1"/>
<rect x="682.6" y="1423.3" width="163.2" height="31.2" fill="#e5d1e1"/>
<rect x="847.6" y="1423.3" width="163.4" height="31.2" fill="#e5d1e1"/>
<text x="763.9" y="1347.5" font-size="15.5" text-anchor="middle" textLength="87" lengthAdjust="spacingAndGlyphs" style="fill:#3e3e3e">额定电流(A)</text>
<text x="928.3" y="1347.5" font-size="15.5" text-anchor="middle" textLength="115.7" lengthAdjust="spacingAndGlyphs" style="fill:#3e3e3e">母排厚度H(mm)</text>
<text x="764.4" y="1378.6" font-size="15" text-anchor="middle" textLength="122.6" lengthAdjust="spacingAndGlyphs">200、400、630</text>
<text x="930" y="1378.6" font-size="15" text-anchor="middle">5</text>
<text x="764.4" y="1411.4" font-size="15" text-anchor="middle" textLength="86" lengthAdjust="spacingAndGlyphs">800、1000</text>
<text x="930" y="1411.4" font-size="15" text-anchor="middle">10</text>
<text x="765.3" y="1443.8" font-size="15" text-anchor="middle" textLength="94.4" lengthAdjust="spacingAndGlyphs">1250、1600</text>
<text x="930.4" y="1443.8" font-size="15" text-anchor="middle">15</text>
<text x="683.7" y="1491" font-size="17" textLength="326.6" lengthAdjust="spacingAndGlyphs">RDW5-1600H 电流与母排厚度对应关系</text>
</svg>
</body></html>
